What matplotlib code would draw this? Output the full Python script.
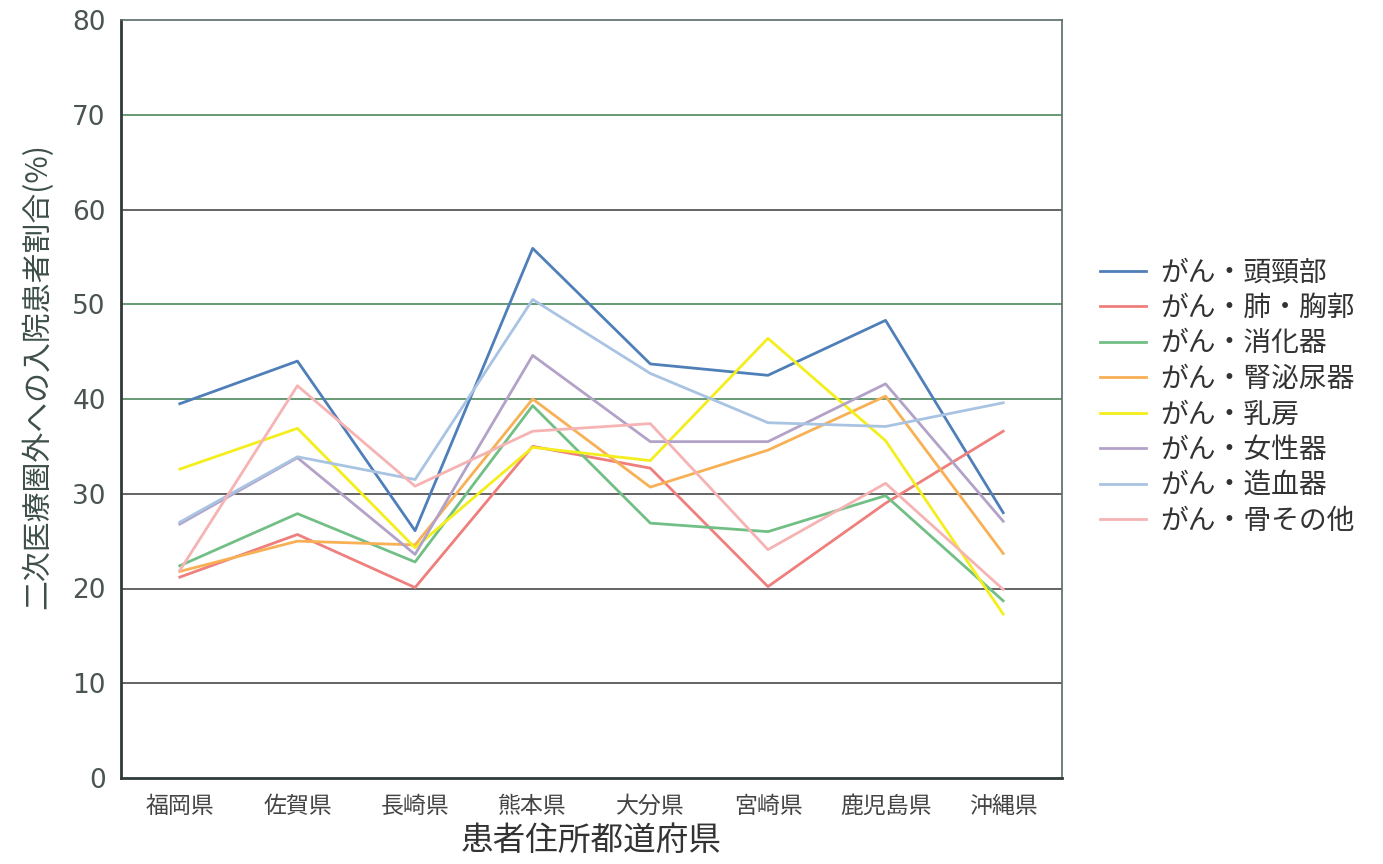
import matplotlib
matplotlib.use("Agg")
import matplotlib.pyplot as plt

plt.rcParams['font.family'] = ['Noto Sans CJK JP', 'DejaVu Sans']

prefectures = ["福岡県", "佐賀県", "長崎県", "熊本県", "大分県", "宮崎県", "鹿児島県", "沖縄県"]

head_neck = [39.5, 44.0, 26.1, 55.9, 43.7, 42.5, 48.3, 28.0]
lung_thorax = [21.2, 25.7, 20.1, 35.0, 32.7, 20.2, 29.0, 36.6]
digestive = [22.4, 27.9, 22.8, 39.3, 26.9, 26.0, 29.8, 18.7]
urology = [21.8, 25.0, 24.6, 40.0, 30.7, 34.6, 40.3, 23.7]
breast = [32.6, 36.9, 24.3, 34.9, 33.5, 46.4, 35.6, 17.3]
female = [26.8, 33.8, 23.6, 44.6, 35.5, 35.5, 41.6, 27.1]
blood = [27.0, 33.9, 31.5, 50.5, 42.7, 37.5, 37.1, 39.6]
bone_other = [21.9, 41.4, 30.8, 36.6, 37.4, 24.1, 31.1, 19.9]

series_names = ["がん・頭頸部", "がん・肺・胸郭", "がん・消化器", "がん・腎泌尿器",
                "がん・乳房", "がん・女性器", "がん・造血器", "がん・骨その他"]
series_values = [head_neck, lung_thorax, digestive, urology, breast, female, blood, bone_other]
series_colors = ["#4f7fb8", "#ef7f7c", "#72bf86", "#f8b055", "#f4ee1c",
                 "#b3a2c8", "#a9c3e2", "#f6b3b3"]

y_ticks = [0, 10, 20, 30, 40, 50, 60, 70, 80]
grid_colors = {10: "#3a3a3a", 20: "#3a3a3a", 30: "#3a3a3a", 40: "#3f7f4f",
               50: "#3f7f4f", 60: "#3a3a3a", 70: "#3f7f4f"}

fig = plt.figure(figsize=(13.83, 8.64), dpi=100)
ax = fig.add_axes([121 / 1383, 86 / 864, 941 / 1383, 758 / 864])

x = list(range(len(prefectures)))
for name, vals, col in zip(series_names, series_values, series_colors):
    ax.plot(x, vals, color=col, lw=2.0, label=name)

for v, c in grid_colors.items():
    ax.axhline(v, color=c, lw=1.1, zorder=0)

ax.set_xlim(-0.5, len(prefectures) - 0.5)
ax.set_ylim(0, 80)
ax.set_yticks(y_ticks)
ax.set_yticklabels([str(t) for t in y_ticks], fontsize=19, color="#4a5552",
                   family="DejaVu Sans")
ax.set_xticks(x)
ax.set_xticklabels(prefectures, fontsize=16.5, color="#444444")
ax.tick_params(axis="y", length=0, pad=11)
ax.tick_params(axis="x", length=0, pad=12)

for side in ["top", "right"]:
    ax.spines[side].set_color("#5a6a6a")
    ax.spines[side].set_linewidth(1.2)
for side in ["left", "bottom"]:
    ax.spines[side].set_color("#2f3a3a")
    ax.spines[side].set_linewidth(2.0)

ax.set_xlabel("患者住所都道府県", fontsize=23.5, color="#333333", labelpad=5)
ax.set_ylabel("二次医療圏外への入院患者割合(%)", fontsize=21.5, color="#3d4f48")
ax.yaxis.set_label_coords(-0.072, 0.530)

leg = ax.legend(loc="center left", bbox_to_anchor=(1.014, 0.503), frameon=False,
                fontsize=20, handlelength=1.65, labelspacing=0.2, handletextpad=0.5)
for t in leg.get_texts():
    t.set_color("#333333")

fig.savefig("out.png", dpi=100, facecolor="white")
